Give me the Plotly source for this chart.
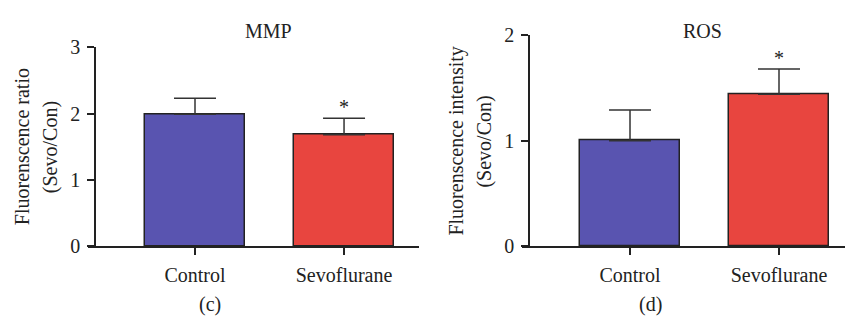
import plotly.graph_objects as go

W, H = 845, 327

categories = ["Control", "Sevoflurane"]
mmp_values = [1.99, 1.68]
mmp_errors = [0.24, 0.25]
ros_values = [1.00, 1.44]
ros_errors = [0.29, 0.24]
mmp_ticks = [0, 1, 2, 3]
ros_ticks = [0, 1, 2]
stars = ["", "*"]

colors = ["#5954B0", "#E8453F"]
FONT = "Liberation Serif"


def px(x):
    return x / W


def py(y):
    return 1 - y / H


fig = go.Figure()

positions = list(range(len(categories)))

fig.add_trace(go.Bar(
    x=positions, y=mmp_values, width=0.67,
    marker=dict(color=colors, line=dict(color="#222222", width=1.5)),
    error_y=dict(type="data", array=mmp_errors, arrayminus=[0] * len(mmp_errors),
                 symmetric=False, color="#333333", thickness=1.5, width=21),
    xaxis="x", yaxis="y", showlegend=False,
))
fig.add_trace(go.Bar(
    x=positions, y=ros_values, width=0.67,
    marker=dict(color=colors, line=dict(color="#222222", width=1.5)),
    error_y=dict(type="data", array=ros_errors, arrayminus=[0] * len(ros_errors),
                 symmetric=False, color="#333333", thickness=1.5, width=21),
    xaxis="x2", yaxis="y2", showlegend=False,
))

axis_font = dict(family=FONT, size=20, color="#222222")

common_x = dict(
    tickmode="array", tickvals=positions, ticktext=categories,
    showline=True, linecolor="#222222", linewidth=1.5,
    ticks="outside", ticklen=7, tickwidth=1.5, tickcolor="#222222",
    tickfont=axis_font, showgrid=False, zeroline=False, fixedrange=True,
    ticklabelstandoff=3,
)
common_y = dict(
    showline=True, linecolor="#222222", linewidth=1.5,
    ticks="outside", ticklen=7, tickwidth=1.5, tickcolor="#222222",
    tickfont=axis_font, showgrid=False, zeroline=False, tickmode="array",
    ticklabelstandoff=3,
)

fig.update_layout(
    width=W, height=H,
    margin=dict(l=0, r=0, t=0, b=0),
    paper_bgcolor="white", plot_bgcolor="white",
    font=dict(family=FONT, size=20, color="#222222"),
    xaxis=dict(domain=[px(88), px(419)], range=[-0.718, 1.503], anchor="y", **common_x),
    yaxis=dict(domain=[py(252), py(39)], range=[0, 3], tickvals=mmp_ticks,
               anchor="free", position=px(95), **common_y),
    xaxis2=dict(domain=[px(522), 1.0], range=[-0.725, 1.443], anchor="y2", **common_x),
    yaxis2=dict(domain=[py(252), py(26)], range=[0, 2], tickvals=ros_ticks,
                anchor="free", position=px(529), **common_y),
    bargap=0,
)


def label(text, x, y, angle=0):
    return dict(text=text, x=px(x), y=py(y), xref="paper", yref="paper",
                xanchor="center", yanchor="middle", showarrow=False,
                textangle=angle, font=dict(family=FONT, size=20, color="#222222"))


ann = [
    label("MMP", 268, 21),
    label("ROS", 702, 21),
    label("Fluorenscence ratio", 22, 146, -90),
    label("(Sevo/Con)", 50, 146, -90),
    label("Fluorenscence intensity", 457, 140, -90),
    label("(Sevo/Con)", 485, 140, -90),
    label("(c)", 210, 315),
    label("(d)", 650, 315),
]
for i, s in enumerate(stars):
    if s:
        ann.append(dict(text=s, x=positions[i], y=mmp_values[i] + mmp_errors[i],
                        xref="x", yref="y", xanchor="center", yanchor="bottom",
                        showarrow=False, yshift=-2,
                        font=dict(family=FONT, size=20, color="#222222")))
        ann.append(dict(text=s, x=positions[i], y=ros_values[i] + ros_errors[i],
                        xref="x2", yref="y2", xanchor="center", yanchor="bottom",
                        showarrow=False, yshift=-2,
                        font=dict(family=FONT, size=20, color="#222222")))

fig.update_layout(annotations=ann)

fig.write_html("out.html")
